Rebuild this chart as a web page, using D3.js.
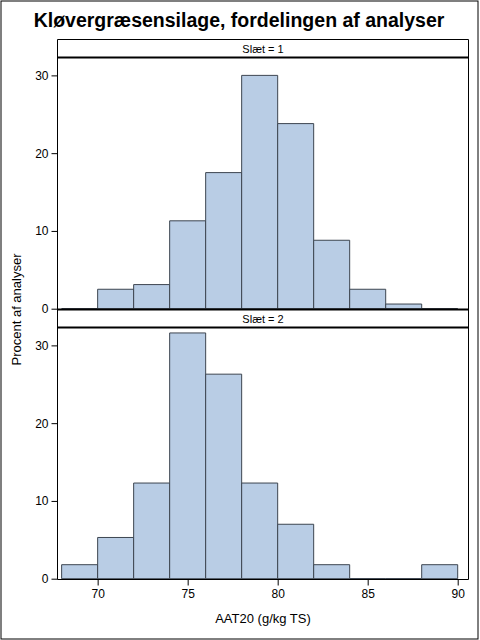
<!DOCTYPE html>
<html>
<head>
<meta charset="utf-8">
<script src="https://cdn.jsdelivr.net/npm/d3@7"></script>
<style>
  html, body { margin: 0; padding: 0; background: #fff; }
  svg { display: block; }
  text { font-family: Arial, "Liberation Sans", sans-serif; fill: #000; }
</style>
</head>
<body>
<svg id="chart" width="480" height="640"></svg>
<script>
// ---- data ----
const title = "Kløvergræsensilage, fordelingen af analyser";
const panelLabels = ["Slæt = 1", "Slæt = 2"];
const binStarts = [68, 70, 72, 74, 76, 78, 80, 82, 84, 86, 88];
const binWidth = 2;
const slaet1 = [0, 2.5, 3.1, 11.3, 17.5, 30.0, 23.8, 8.8, 2.5, 0.6, 0];
const slaet2 = [1.8, 5.3, 12.3, 31.6, 26.3, 12.3, 7.0, 1.8, 0, 0, 1.8];
const xTicks = [70, 75, 80, 85, 90];
const yTicks = [0, 10, 20, 30];
const xLabel = "AAT20 (g/kg TS)";
const yLabel = "Procent af analyser";

// ---- layout ----
const svg = d3.select("#chart");
const left = 57.5, right = 468.5;
const top0 = 39.5, headerH = 18, plotH = 252;

svg.append("rect").attr("x", 1).attr("y", 1).attr("width", 477).attr("height", 638)
  .attr("fill", "#fff").attr("stroke", "#000").attr("stroke-width", 1);

svg.append("text").attr("x", 239).attr("y", 27).attr("text-anchor", "middle")
  .style("font-weight", "bold").style("font-size", "19.5px").text(title);

const x = d3.scaleLinear().domain([67.77, 90.6]).range([left, right]);

const series = [slaet1, slaet2];
let plotBottom = 0;
series.forEach((vals, i) => {
  const hTop = top0 + i * (headerH + plotH);
  const pTop = hTop + headerH;
  const pBot = pTop + plotH;
  plotBottom = pBot;
  const y = d3.scaleLinear().domain([0, 32.3]).range([pBot - 0.8, pTop]);

  const g = svg.append("g");
  const data = binStarts.map((b, k) => ({ x0: b, x1: b + binWidth, v: vals[k] }));
  g.selectAll("path.bar").data(data).enter().append("path")
    .attr("class", "bar")
    .attr("d", d => `M${x(d.x0)},${y(0)}V${y(d.v)}H${x(d.x1)}V${y(0)}Z`)
    .attr("fill", "#B9CDE5")
    .attr("stroke", "#3d4550")
    .attr("stroke-width", 1);

  const ya = g.append("g").attr("transform", `translate(${left},0)`)
    .call(d3.axisLeft(y).tickValues(yTicks).tickSize(6).tickPadding(3).tickFormat(d3.format("d")));
  ya.select(".domain").remove();
  ya.selectAll("text").style("font-size", "12px").style("font-family", "Arial, 'Liberation Sans', sans-serif");
  ya.selectAll("line").attr("stroke", "#000");

  svg.append("line").attr("x1", left).attr("x2", right).attr("y1", hTop).attr("y2", hTop)
    .attr("stroke", "#000").attr("stroke-width", i === 0 ? 1 : 2);
  svg.append("line").attr("x1", left).attr("x2", right).attr("y1", pTop).attr("y2", pTop)
    .attr("stroke", "#000").attr("stroke-width", 2);
  svg.append("text").attr("x", (left + right) / 2).attr("y", hTop + 13)
    .attr("text-anchor", "middle").style("font-size", "11px").text(panelLabels[i]);
});

svg.append("line").attr("x1", left).attr("x2", left).attr("y1", top0).attr("y2", plotBottom).attr("stroke", "#000");
svg.append("line").attr("x1", right).attr("x2", right).attr("y1", top0).attr("y2", plotBottom).attr("stroke", "#000");

const xa = svg.append("g").attr("transform", `translate(0,${plotBottom})`)
  .call(d3.axisBottom(x).tickValues(xTicks).tickSize(6).tickPadding(4).tickFormat(d3.format("d")));
xa.select(".domain").remove();
xa.selectAll("text").style("font-size", "12px").style("font-family", "Arial, 'Liberation Sans', sans-serif");
svg.append("line").attr("x1", left).attr("x2", right).attr("y1", plotBottom).attr("y2", plotBottom).attr("stroke", "#000");

svg.append("text").attr("x", (left + right) / 2).attr("y", 623).attr("text-anchor", "middle")
  .style("font-size", "13px").text(xLabel);
svg.append("text").attr("transform", `translate(21,${(top0 + plotBottom) / 2}) rotate(-90)`)
  .attr("text-anchor", "middle").style("font-size", "13px").text(yLabel);
</script>
</body>
</html>
